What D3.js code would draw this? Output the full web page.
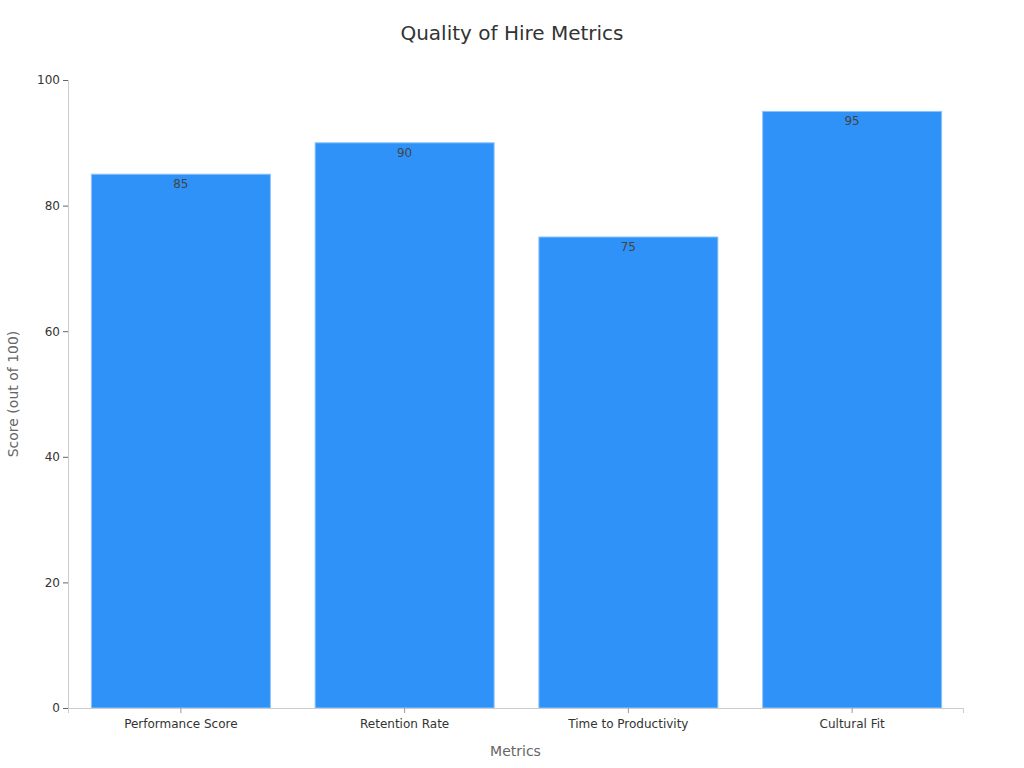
<!DOCTYPE html>
<html>
<head>
<meta charset="utf-8">
<script src="https://cdn.jsdelivr.net/npm/d3@7"></script>
<style>
  body { margin: 0; background: #fff; }
  text { font-family: "DejaVu Sans", sans-serif; }
</style>
</head>
<body>
<svg id="chart" width="1024" height="768"></svg>
<script>
const categories = ["Performance Score", "Retention Rate", "Time to Productivity", "Cultural Fit"];
const scores = [85, 90, 75, 95];
const yTicks = [0, 20, 40, 60, 80, 100];

const margin = { top: 80, right: 61, bottom: 60, left: 68 };
const width = 1024, height = 768;

const svg = d3.select("#chart");

const x = d3.scaleBand()
  .domain(categories)
  .range([margin.left, width - margin.right])
  .paddingInner(0.2)
  .paddingOuter(0.1);

const y = d3.scaleLinear()
  .domain([0, 100])
  .range([height - margin.bottom, margin.top]);

// title
svg.append("text")
  .attr("x", width / 2)
  .attr("y", 40)
  .attr("text-anchor", "middle")
  .style("font-size", "20px")
  .style("fill", "#333")
  .text("Quality of Hire Metrics");

// bars
svg.selectAll(".bar")
  .data(scores)
  .join("rect")
  .attr("class", "bar")
  .attr("x", (d, i) => x(categories[i]) + 1)
  .attr("y", d => y(d))
  .attr("width", x.bandwidth())
  .attr("height", d => y(0) - y(d))
  .style("fill", "#2f92f8")
  .style("stroke", "#8cc4fb")
  .style("stroke-width", 1);

// value labels
svg.selectAll(".val")
  .data(scores)
  .join("text")
  .attr("class", "val")
  .attr("x", (d, i) => x(categories[i]) + x.bandwidth() / 2 + 1)
  .attr("y", d => y(d) + 14)
  .attr("text-anchor", "middle")
  .style("font-size", "12px")
  .style("fill", "#444")
  .text(d => d);

// y axis
const yAxis = svg.append("g")
  .attr("transform", `translate(${margin.left},0)`)
  .call(d3.axisLeft(y).tickValues(yTicks).tickSize(5).tickPadding(3));
yAxis.select(".domain").attr("stroke", "#ccc");
yAxis.selectAll(".tick line").attr("stroke", "#666");
yAxis.selectAll(".tick text").style("font-size", "12px").style("fill", "#333");

// x axis
const xAxis = svg.append("g")
  .attr("transform", `translate(0,${height - margin.bottom})`)
  .call(d3.axisBottom(x).tickSizeOuter(0).tickSize(5).tickPadding(6));
xAxis.select(".domain").attr("stroke", "#ccc");
xAxis.selectAll(".tick line").attr("stroke", "#999").attr("transform", "translate(1,0)");
xAxis.selectAll(".tick text").style("font-size", "12px").style("fill", "#333").attr("dx", 1);

// axis titles
svg.append("text")
  .attr("x", (margin.left + width - margin.right) / 2)
  .attr("y", 756)
  .attr("text-anchor", "middle")
  .style("font-size", "14px")
  .style("fill", "#666")
  .text("Metrics");

svg.append("text")
  .attr("transform", `translate(18,${(margin.top + height - margin.bottom) / 2}) rotate(-90)`)
  .attr("text-anchor", "middle")
  .style("font-size", "14px")
  .style("fill", "#666")
  .text("Score (out of 100)");
</script>
</body>
</html>
